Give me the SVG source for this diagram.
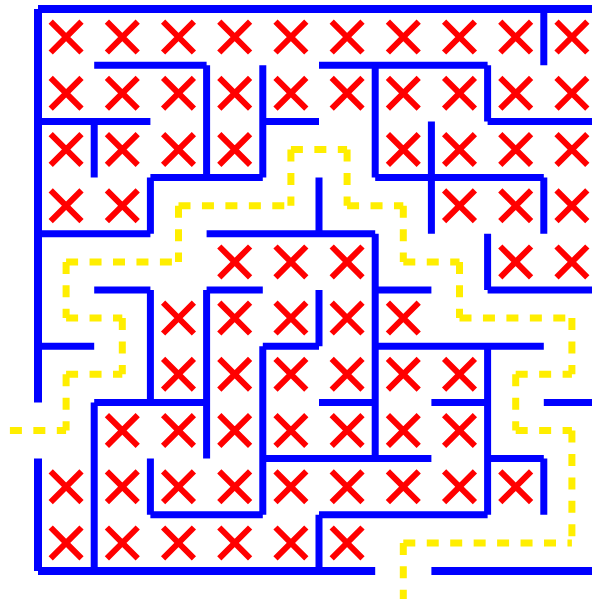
<svg xmlns="http://www.w3.org/2000/svg" width="592" height="599" viewBox="0 0 592 599">
<style>
.outer{fill:none;stroke:#0000ff;stroke-width:8;stroke-linecap:butt}
.wall{fill:none;stroke:#0000ff;stroke-width:7;stroke-linecap:butt}
.mark{fill:none;stroke:#ff0000;stroke-width:6;stroke-linecap:butt}
.route line{stroke:#ffee00;stroke-width:7;stroke-linecap:butt;stroke-dasharray:12 11.45}
</style>
<defs>
<path id="x" class="mark" d="M-15.4 -15.4L15.4 15.4M15.4 -15.4L-15.4 15.4"/>
</defs>
<rect width="592" height="599" fill="#ffffff"/>
<g id="marks">
<use href="#x" x="66.1" y="37.1"/><use href="#x" x="122.3" y="37.1"/><use href="#x" x="178.5" y="37.1"/><use href="#x" x="234.7" y="37.1"/><use href="#x" x="290.9" y="37.1"/><use href="#x" x="347.1" y="37.1"/><use href="#x" x="403.3" y="37.1"/><use href="#x" x="459.5" y="37.1"/><use href="#x" x="515.7" y="37.1"/><use href="#x" x="571.9" y="37.1"/>
<use href="#x" x="66.1" y="93.3"/><use href="#x" x="122.3" y="93.3"/><use href="#x" x="178.5" y="93.3"/><use href="#x" x="234.7" y="93.3"/><use href="#x" x="290.9" y="93.3"/><use href="#x" x="347.1" y="93.3"/><use href="#x" x="403.3" y="93.3"/><use href="#x" x="459.5" y="93.3"/><use href="#x" x="515.7" y="93.3"/><use href="#x" x="571.9" y="93.3"/>
<use href="#x" x="66.1" y="149.5"/><use href="#x" x="122.3" y="149.5"/><use href="#x" x="178.5" y="149.5"/><use href="#x" x="234.7" y="149.5"/><use href="#x" x="403.3" y="149.5"/><use href="#x" x="459.5" y="149.5"/><use href="#x" x="515.7" y="149.5"/><use href="#x" x="571.9" y="149.5"/>
<use href="#x" x="66.1" y="205.7"/><use href="#x" x="122.3" y="205.7"/><use href="#x" x="459.5" y="205.7"/><use href="#x" x="515.7" y="205.7"/><use href="#x" x="571.9" y="205.7"/>
<use href="#x" x="234.7" y="261.9"/><use href="#x" x="290.9" y="261.9"/><use href="#x" x="347.1" y="261.9"/><use href="#x" x="515.7" y="261.9"/><use href="#x" x="571.9" y="261.9"/>
<use href="#x" x="178.5" y="318.1"/><use href="#x" x="234.7" y="318.1"/><use href="#x" x="290.9" y="318.1"/><use href="#x" x="347.1" y="318.1"/><use href="#x" x="403.3" y="318.1"/>
<use href="#x" x="178.5" y="374.3"/><use href="#x" x="234.7" y="374.3"/><use href="#x" x="290.9" y="374.3"/><use href="#x" x="347.1" y="374.3"/><use href="#x" x="403.3" y="374.3"/><use href="#x" x="459.5" y="374.3"/>
<use href="#x" x="122.3" y="430.5"/><use href="#x" x="178.5" y="430.5"/><use href="#x" x="234.7" y="430.5"/><use href="#x" x="290.9" y="430.5"/><use href="#x" x="347.1" y="430.5"/><use href="#x" x="403.3" y="430.5"/><use href="#x" x="459.5" y="430.5"/>
<use href="#x" x="66.1" y="486.7"/><use href="#x" x="122.3" y="486.7"/><use href="#x" x="178.5" y="486.7"/><use href="#x" x="234.7" y="486.7"/><use href="#x" x="290.9" y="486.7"/><use href="#x" x="347.1" y="486.7"/><use href="#x" x="403.3" y="486.7"/><use href="#x" x="459.5" y="486.7"/><use href="#x" x="515.7" y="486.7"/>
<use href="#x" x="66.1" y="542.9"/><use href="#x" x="122.3" y="542.9"/><use href="#x" x="178.5" y="542.9"/><use href="#x" x="234.7" y="542.9"/><use href="#x" x="290.9" y="542.9"/><use href="#x" x="347.1" y="542.9"/>
</g>
<g id="route" class="route">
<line x1="9.9" y1="430.5" x2="66.1" y2="430.5"/>
<line x1="66.1" y1="374.3" x2="66.1" y2="430.5"/>
<line x1="66.1" y1="374.3" x2="122.3" y2="374.3"/>
<line x1="122.3" y1="318.1" x2="122.3" y2="374.3"/>
<line x1="66.1" y1="318.1" x2="122.3" y2="318.1"/>
<line x1="66.1" y1="261.9" x2="66.1" y2="318.1"/>
<line x1="66.1" y1="261.9" x2="178.5" y2="261.9"/>
<line x1="178.5" y1="205.7" x2="178.5" y2="261.9"/>
<line x1="178.5" y1="205.7" x2="290.9" y2="205.7"/>
<line x1="290.9" y1="149.5" x2="290.9" y2="205.7"/>
<line x1="290.9" y1="149.5" x2="347.1" y2="149.5"/>
<line x1="347.1" y1="149.5" x2="347.1" y2="205.7"/>
<line x1="347.1" y1="205.7" x2="403.3" y2="205.7"/>
<line x1="403.3" y1="205.7" x2="403.3" y2="261.9"/>
<line x1="403.3" y1="261.9" x2="459.5" y2="261.9"/>
<line x1="459.5" y1="261.9" x2="459.5" y2="318.1"/>
<line x1="459.5" y1="318.1" x2="571.9" y2="318.1"/>
<line x1="571.9" y1="318.1" x2="571.9" y2="374.3"/>
<line x1="515.7" y1="374.3" x2="571.9" y2="374.3"/>
<line x1="515.7" y1="374.3" x2="515.7" y2="430.5"/>
<line x1="515.7" y1="430.5" x2="571.9" y2="430.5"/>
<line x1="571.9" y1="430.5" x2="571.9" y2="542.9"/>
<line x1="403.3" y1="542.9" x2="571.9" y2="542.9"/>
<line x1="403.3" y1="542.9" x2="403.3" y2="599.1"/>
</g>
<g id="walls">
<path class="outer" d="M38 9H600M38 9V402.4M38 458.6V571M38 571H375.2M431.4 571H600"/>
<path class="wall" d="M94.2 65.2H206.6M319 65.2H487.6M38 121.4H150.4M262.8 121.4H319M487.6 121.4H600M150.4 177.6H262.8M375.2 177.6H543.8M38 233.8H150.4M206.6 233.8H375.2M94.2 290H150.4M206.6 290H262.8M375.2 290H431.4M487.6 290H600M38 346.2H94.2M262.8 346.2H319M375.2 346.2H543.8M94.2 402.4H206.6M319 402.4H375.2M431.4 402.4H487.6M543.8 402.4H600M262.8 458.6H431.4M487.6 458.6H543.8M150.4 514.8H262.8M319 514.8H487.6"/>
<path class="wall" d="M94.2 121.4V177.6M94.2 402.4V571M150.4 177.6V233.8M150.4 290V402.4M150.4 458.6V514.8M206.6 65.2V177.6M206.6 290V458.6M262.8 65.2V177.6M262.8 346.2V514.8M319 177.6V233.8M319 290V346.2M319 514.8V571M375.2 65.2V177.6M375.2 233.8V458.6M431.4 121.4V233.8M487.6 65.2V121.4M487.6 233.8V290M487.6 346.2V514.8M543.8 9V65.2M543.8 177.6V233.8M543.8 458.6V514.8"/>
</g>
</svg>
